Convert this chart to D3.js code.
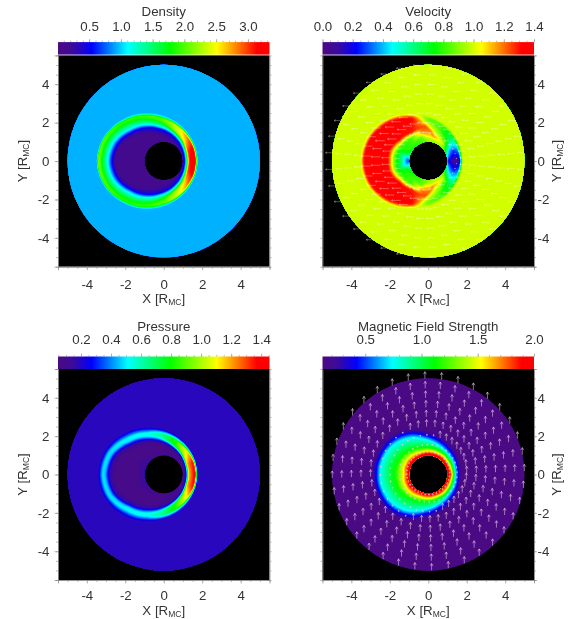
<!DOCTYPE html>
<html>
<head>
<meta charset="utf-8">
<title>Mars Crustal field panels</title>
<script src="https://cdn.jsdelivr.net/npm/d3@7"></script>
<style>
  html, body { margin: 0; padding: 0; background: #fff; }
  svg { display: block; filter: blur(0.6px); font-family: "Liberation Sans", Arial, sans-serif; }
  text { fill: #333; font-size: 13.3px; }
</style>
</head>
<body>
<div id="main"></div>
<script>
const ctx = {
  SVG_W: 569,
  SVG_H: 619,
  GRID: 220,
  barH: 12.5,
};

// rainbow colour table of the four colour bars
const colorPositions = [0, 0.07, 0.16, 0.33, 0.53, 0.75, 0.94, 1];
const colorHexes = ["#4c0a80", "#3c0a9c", "#0000ff", "#00ffff", "#00ff00", "#ffff00", "#ff0000", "#ff0000"];

const shockX = -0.85;
const rayAngles = [0, 15, 30, 50, 70, 90, 120, 150, 180];

// [distance along ray, value] for each ray
const densityProfile = [
  [[0, .14], [1.75, .15], [1.93, .5], [2.03, 1.2], [2.2, 3.2], [2.48, 3.3], [2.6, .97], [6, .97]],
  [[0, .14], [1.72, .15], [1.92, .5], [2.02, 1.2], [2.17, 3.0], [2.46, 3.25], [2.59, .97], [6, .97]],
  [[0, .14], [1.65, .15], [1.9, .5], [2.0, 1.1], [2.17, 2.5], [2.42, 2.9], [2.565, .97], [6, .97]],
  [[0, .14], [1.55, .15], [1.85, .5], [1.96, 1.1], [2.14, 2.2], [2.38, 2.4], [2.52, .97], [6, .97]],
  [[0, .14], [1.45, .15], [1.78, .5], [1.9, 1.1], [2.14, 1.85], [2.34, 2.1], [2.48, .97], [6, .97]],
  [[0, .12], [1.38, .13], [1.73, .5], [1.89, 1.1], [2.15, 1.75], [2.35, 2.0], [2.47, .97], [6, .97]],
  [[0, .12], [1.44, .13], [1.7, .5], [1.87, 1.1], [2.22, 1.75], [2.38, 1.95], [2.5, .97], [6, .97]],
  [[0, .12], [1.6, .13], [1.78, .5], [2.0, 1.1], [2.36, 1.85], [2.5, 2.1], [2.58, .97], [6, .97]],
  [[0, .12], [1.65, .13], [1.83, .5], [2.05, 1.1], [2.42, 1.9], [2.55, 2.2], [2.63, .97], [6, .97]],
];
const velocityProfile = [
  [[0, .9], [1, .9], [1.5, .9], [1.8, .5], [1.9, .2], [2.1, .1], [2.3, .05], [2.5, .15], [2.64, 1.0], [6, 1.0]],
  [[0, .9], [1, .9], [1.5, .9], [1.75, .9], [1.85, .6], [2.0, .4], [2.2, .3], [2.45, .38], [2.62, 1.0], [6, 1.0]],
  [[0, .9], [1, .9], [1.4, .9], [1.65, .95], [1.85, 1.0], [2.0, .82], [2.2, .66], [2.45, .66], [2.6, 1.0], [6, 1.0]],
  [[0, .8], [.8, .8], [1.3, .9], [1.55, 1.0], [1.72, 1.18], [1.92, 1.0], [2.2, .84], [2.42, .82], [2.55, 1.0], [6, 1.0]],
  [[0, .7], [.9, .8], [1.3, .85], [1.6, 1.2], [1.95, 1.25], [2.08, 1.05], [2.3, .88], [2.38, .88], [2.5, 1.0], [6, 1.0]],
  [[0, .6], [.4, .7], [.7, .8], [1.2, .82], [1.5, 1.3], [2.18, 1.33], [2.27, 1.28], [2.36, 1.12], [2.46, 1.0], [6, 1.0]],
  [[0, .4], [.25, .5], [.5, .75], [.95, .82], [1.3, 1.33], [2.28, 1.33], [2.36, 1.3], [2.45, 1.15], [2.55, 1.0], [6, 1.0]],
  [[0, .25], [.3, .4], [.6, .6], [.9, .8], [1.3, 1.33], [2.38, 1.35], [2.46, 1.3], [2.54, 1.15], [2.64, 1.0], [6, 1.0]],
  [[0, .2], [.3, .35], [.5, .6], [.85, .8], [1.25, 1.33], [2.42, 1.35], [2.5, 1.3], [2.58, 1.15], [2.67, 1.0], [6, 1.0]],
];
const pressureProfile = [
  [[0, .22], [1.5, .09], [1.9, .1], [2.04, .3], [2.18, 1.2], [2.48, 1.42], [2.6, .19], [6, .19]],
  [[0, .22], [1.5, .09], [1.9, .1], [2.02, .25], [2.15, 1.2], [2.45, 1.38], [2.59, .19], [6, .19]],
  [[0, .22], [1.45, .09], [1.88, .1], [1.99, .2], [2.14, 1.0], [2.38, 1.15], [2.565, .19], [6, .19]],
  [[0, .22], [1.3, .09], [1.78, .1], [1.92, .2], [2.09, .8], [2.3, .85], [2.52, .19], [6, .19]],
  [[0, .22], [1.15, .09], [1.68, .09], [1.84, .2], [2.05, .6], [2.24, .65], [2.47, .19], [6, .19]],
  [[0, .22], [1.0, .09], [1.55, .09], [1.78, .2], [2.0, .52], [2.14, .55], [2.44, .19], [6, .19]],
  [[0, .22], [.8, .09], [1.52, .09], [1.78, .2], [1.98, .5], [2.14, .52], [2.46, .19], [6, .19]],
  [[0, .22], [.55, .09], [1.68, .09], [1.95, .2], [2.15, .48], [2.29, .5], [2.52, .19], [6, .19]],
  [[0, .22], [.45, .09], [1.72, .09], [2.0, .2], [2.2, .47], [2.32, .5], [2.56, .19], [6, .19]],
];
const magneticProfile = [
  [[0, 2], [2.0, 1.9], [2.1, 1.5], [2.15, 1.15], [2.2, 1.0], [2.25, .75], [2.4, .42], [2.55, .16], [6, .16]],
  [[0, 2], [1.88, 1.9], [2.02, 1.5], [2.1, 1.15], [2.17, 1.0], [2.25, .75], [2.4, .42], [2.55, .16], [6, .16]],
  [[0, 2], [1.75, 1.9], [1.9, 1.5], [2.0, 1.15], [2.07, 1.0], [2.15, .75], [2.35, .42], [2.55, .16], [6, .16]],
  [[0, 2], [1.42, 1.9], [1.6, 1.5], [1.75, 1.15], [1.88, 1.0], [2.05, .75], [2.25, .42], [2.5, .16], [6, .16]],
  [[0, 2], [1.0, 1.9], [1.25, 1.5], [1.45, 1.15], [1.65, 1.0], [1.95, .75], [2.15, .42], [2.4, .16], [6, .16]],
  [[0, 2], [.7, 1.9], [1.0, 1.5], [1.25, 1.15], [1.5, 1.0], [1.92, .75], [2.15, .42], [2.38, .16], [6, .16]],
  [[0, 2], [.4, 1.9], [.7, 1.5], [1.05, 1.15], [1.35, 1.0], [1.82, .75], [2.05, .42], [2.3, .16], [6, .16]],
  [[0, 2], [.25, 1.9], [.52, 1.5], [.9, 1.15], [1.25, 1.0], [1.7, .75], [1.9, .42], [2.12, .16], [6, .16]],
  [[0, 2], [.17, 1.9], [.45, 1.5], [.85, 1.15], [1.2, 1.0], [1.65, .75], [1.85, .42], [2.08, .16], [6, .16]],
];

const panelTitles = ["Density", "Velocity", "Pressure", "Magnetic Field Strength"];
const densityDomain = [0.01, 3.34];
const velocityDomain = [0, 1.4];
const pressureDomain = [0.047, 1.455];
const magneticDomain = [0.12, 2.0];
const densityTicks = [0.5, 1.0, 1.5, 2.0, 2.5, 3.0];
const velocityTicks = [0.0, 0.2, 0.4, 0.6, 0.8, 1.0, 1.2, 1.4];
const pressureTicks = [0.2, 0.4, 0.6, 0.8, 1.0, 1.2, 1.4];
const magneticTicks = [0.5, 1.0, 1.5, 2.0];
const minorStep = [0.1, 0.05, 0.05, 0.1];

const axisTicks = [-4, -2, 0, 2, 4];
const axisMinor = [-5, -4.5, -4, -3.5, -3, -2.5, -2, -1.5, -1, -0.5, 0, 0.5, 1, 1.5, 2, 2.5, 3, 3.5, 4, 4.5, 5];
const diskRadius = 5;
const bodyRadius = 1;

// flow and field arrows sit on a polar grid
const velocityRings = [1.5, 2, 2.5, 3, 3.5, 4, 4.5, 5];
const velocityArrowAngles = [5, 15, 25, 35, 45, 55, 65, 75, 85, 95, 105, 115, 125, 135, 145, 155, 165, 175,
  185, 195, 205, 215, 225, 235, 245, 255, 265, 275, 285, 295, 305, 315, 325, 335, 345, 355];
const magneticRings = [1.12, 1.5, 2, 2.5, 3, 3.5, 4, 4.5, 5];
const magneticArrowAngles = [2, 12, 22, 32, 42, 52, 62, 72, 82, 92, 102, 112, 122, 132, 142, 152, 162, 172,
  182, 192, 202, 212, 222, 232, 242, 252, 262, 272, 282, 292, 302, 312, 322, 332, 342, 352];

function fieldValue(profile, x, y) {
  const dx = x - shockX;
  const s = Math.hypot(dx, y);
  const th = Math.atan2(Math.abs(y), dx) * 180 / Math.PI;
  const i = Math.min(d3.bisectRight(rayAngles, th) - 1, rayAngles.length - 2);
  const f = (th - rayAngles[i]) / (rayAngles[i + 1] - rayAngles[i]);
  const a = profile[i], b = profile[i + 1];
  let s0 = a[0][0], v0 = a[0][1];
  for (let k = 1; k < a.length; k++) {
    const s1 = a[k][0] + (b[k][0] - a[k][0]) * f;
    const v1 = a[k][1] + (b[k][1] - a[k][1]) * f;
    if (s <= s1) return v0 + (v1 - v0) * (s - s0) / (s1 - s0);
    s0 = s1; v0 = v1;
  }
  return v0;
}

function CreateField(g, p, x, y, color, id) {
  const n = ctx.GRID;
  const gx = d3.scaleLinear([0, n], x.domain());
  const gy = d3.scaleLinear([0, n], y.domain().slice().reverse());

  const grid = new Float64Array(n * n);
  for (let j = 0; j < n; j++) {
    for (let i = 0; i < n; i++) {
      grid[j * n + i] = fieldValue(p.profile, gx(i + 0.5), gy(j + 0.5));
    }
  }

  const dom = color.domain();
  const thresholds = d3.range(90).map(i => dom[0] + (dom[dom.length - 1] - dom[0]) * i / 90);
  const contours = d3.contours().size([n, n]).thresholds(thresholds)(grid);
  const path = d3.geoPath().projection(d3.geoTransform({
    point(a, b) { this.stream.point(x(gx(a)), y(gy(b))); },
  }));

  // disk with the body cut out
  const r = x(diskRadius) - x(0), rb = x(bodyRadius) - x(0);
  const cx = x(0), cy = y(0);
  const ringPath = d3.path();
  ringPath.arc(cx, cy, r, 0, 2 * Math.PI);
  ringPath.moveTo(cx + rb, cy);
  ringPath.arc(cx, cy, rb, 0, 2 * Math.PI);
  g.append("clipPath").attr("id", "ring" + id)
    .append("path").attr("d", ringPath.toString()).attr("clip-rule", "evenodd");

  g.append("g").attr("clip-path", `url(#ring${id})`)
    .selectAll("path")
    .data(contours)
    .enter()
    .append("path")
    .attr("d", path)
    .attr("fill", d => color(d.value));
}

function CreateArrows(g, p, x, y) {
  const arrows = [];
  p.arrowRings.forEach(r => p.arrowAngles.forEach(a => {
    const ax = r * Math.cos(a * Math.PI / 180), ay = r * Math.sin(a * Math.PI / 180);
    arrows.push(p.arrow(ax, ay, fieldValue(p.profile, ax, ay)));
  }));
  const h = p.headSize;
  g.append("g")
    .selectAll("path")
    .data(arrows)
    .enter()
    .append("path")
    .attr("d", d => {
      const x1 = x(d.x + d.dx), y1 = y(d.y + d.dy);
      const len = Math.hypot(d.dx, d.dy) || 1;
      const ux = d.dx / len, uy = -d.dy / len;
      const back = Math.min(h, len * 19.2 * 0.5);
      return `M${x(d.x)},${y(d.y)}L${x1},${y1}` +
        `M${x1 - ux * back - uy * back * 0.6},${y1 - uy * back + ux * back * 0.6}L${x1},${y1}` +
        `L${x1 - ux * back + uy * back * 0.6},${y1 - uy * back - ux * back * 0.6}`;
    })
    .attr("fill", "none")
    .attr("stroke", p.arrowColor)
    .attr("stroke-width", p.arrowWidth);
}

function RmcLabel(sel, letter) {
  sel.append("tspan").text(letter + " [R");
  sel.append("tspan").attr("dy", 2).style("font-size", "8.5px").text("MC");
  sel.append("tspan").attr("dy", -2).text("]");
}

function CreateAxes(g, p, x, y) {
  const plain = d => String(d);
  const bottom = y.range()[0], left = x.range()[0], right = x.range()[1];

  const styleAxis = a => {
    a.selectAll("line").attr("stroke", "#999").attr("stroke-width", 0.7);
    a.select(".domain").attr("stroke", "#8a8a8a").attr("stroke-width", 0.7);
  };

  const minorAxes = [
    [d3.axisBottom(x), 0, bottom], [d3.axisLeft(y), left, 0], [d3.axisRight(y), right, 0],
  ];
  minorAxes.forEach(([ax, tx, ty]) => {
    g.append("g").attr("transform", `translate(${tx},${ty})`)
      .call(ax.tickValues(axisMinor).tickSize(2).tickFormat(""))
      .call(styleAxis);
  });

  g.append("g").attr("transform", `translate(0,${bottom})`)
    .call(d3.axisBottom(x).tickValues(axisTicks).tickSize(3.5).tickPadding(p.xTickPad).tickFormat(plain))
    .call(styleAxis)
    .selectAll("text").style("font-size", "13.3px").attr("fill", "#333");

  const yAxis = p.yRight ? d3.axisRight(y).tickSize(3).tickPadding(0.5) : d3.axisLeft(y).tickSize(3.5).tickPadding(5);
  g.append("g").attr("transform", `translate(${p.yRight ? right : left},0)`)
    .call(yAxis.tickValues(axisTicks).tickFormat(plain))
    .call(styleAxis)
    .selectAll("text").style("font-size", "13.3px").attr("fill", "#333");

  g.append("text")
    .attr("x", x(0)).attr("y", bottom + p.xLabelGap)
    .attr("text-anchor", "middle")
    .call(RmcLabel, "X");

  g.append("text")
    .attr("transform", `translate(${p.yRight ? right + 27 : left - 31},${y(0)}) rotate(-90)`)
    .attr("text-anchor", "middle")
    .call(RmcLabel, "Y");
}

function CreateColorBar(g, p, x, y, color) {
  const top = y.range()[1];
  const barTop = top - p.barGap - ctx.barH;
  const bar = d3.scaleLinear(p.domain, x.range());

  const grad = g.append("linearGradient").attr("id", "bar" + p.id);
  colorPositions.forEach((t, i) => {
    grad.append("stop").attr("offset", t).attr("stop-color", colorHexes[i]);
  });
  g.append("rect")
    .attr("x", x.range()[0]).attr("y", barTop)
    .attr("width", x.range()[1] - x.range()[0]).attr("height", ctx.barH)
    .attr("fill", `url(#bar${p.id})`);

  const styleBar = a => {
    a.selectAll("line").attr("stroke", "#999").attr("stroke-width", 0.7);
    a.select(".domain").remove();
  };
  const minors = d3.range(Math.ceil(p.domain[0] / p.minor), p.domain[1] / p.minor + 0.001).map(k => k * p.minor);
  g.append("g").attr("transform", `translate(0,${barTop})`)
    .call(d3.axisTop(bar).tickValues(minors).tickSize(1.5).tickFormat(""))
    .call(styleBar);
  g.append("g").attr("transform", `translate(0,${barTop})`)
    .call(d3.axisTop(bar).tickValues(p.ticks).tickSize(3).tickPadding(p.labelGap).tickFormat(d3.format(".1f")))
    .call(styleBar)
    .selectAll("text").style("font-size", "13.3px").attr("fill", "#333");

  g.append("text")
    .attr("x", x(0)).attr("y", barTop - p.titleGap)
    .attr("text-anchor", "middle")
    .text(p.title);
}

function CreatePanel(svgEl, p) {
  const x = d3.scaleLinear([-5.5, 5.5], p.xRange);
  const y = d3.scaleLinear([-5.5, 5.5], p.yRange);
  const t = d3.scaleLinear([0, 1], p.domain);
  const color = d3.scaleLinear(colorPositions.map(t), colorHexes).clamp(true);

  const g = svgEl.append("g").attr("id", "panel" + p.id);

  g.append("rect")
    .attr("x", p.xRange[0]).attr("y", p.yRange[1])
    .attr("width", p.xRange[1] - p.xRange[0]).attr("height", p.yRange[0] - p.yRange[1])
    .attr("fill", "#000");

  CreateField(g, p, x, y, color, p.id);
  if (p.arrow) CreateArrows(g, p, x, y);
  CreateAxes(g, p, x, y);
  CreateColorBar(g, p, x, y, color);
}

function createViz() {
  const svgEl = d3.select("#main").append("svg")
    .attr("width", ctx.SVG_W).attr("height", ctx.SVG_H);

  const colLeft = [58, 269.5], colRight = [322.5, 534];
  const rowTop = [266.7, 55.4], rowBottom = [580, 369];

  const panels = [
    { id: 0, title: panelTitles[0], profile: densityProfile, domain: densityDomain, ticks: densityTicks, minor: minorStep[0],
      xRange: colLeft, yRange: rowTop, barGap: 0.8, labelGap: 8, titleGap: 26, xTickPad: 9.5, xLabelGap: 36.5 },
    { id: 1, title: panelTitles[1], profile: velocityProfile, domain: velocityDomain, ticks: velocityTicks, minor: minorStep[1],
      xRange: colRight, yRange: rowTop, yRight: true, barGap: 0.8, labelGap: 8, titleGap: 26, xTickPad: 9.5, xLabelGap: 36.5,
      arrowRings: velocityRings, arrowAngles: velocityArrowAngles, headSize: 1.5,
      arrowColor: "rgba(255,255,255,0.5)", arrowWidth: 0.6,
      arrow: (ax, ay, v) => ({ x: ax, y: ay, dx: -0.36 * v, dy: 0 }) },
    { id: 2, title: panelTitles[2], profile: pressureProfile, domain: pressureDomain, ticks: pressureTicks, minor: minorStep[2],
      xRange: colLeft, yRange: rowBottom, barGap: 0, labelGap: 9.5, titleGap: 26, xTickPad: 7.5, xLabelGap: 34.5 },
    { id: 3, title: panelTitles[3], profile: magneticProfile, domain: magneticDomain, ticks: magneticTicks, minor: minorStep[3],
      xRange: colRight, yRange: rowBottom, yRight: true, barGap: 0, labelGap: 9.5, titleGap: 26, xTickPad: 7.5, xLabelGap: 34.5,
      arrowRings: magneticRings, arrowAngles: magneticArrowAngles, headSize: 2.4,
      arrowColor: "rgba(235,205,235,0.7)", arrowWidth: 0.8,
      arrow: (ax, ay, v) => ({ x: ax, y: ay, dx: 0, dy: v > 0.25 ? 0.1 : 0.36 }) },
  ];

  panels.forEach(p => CreatePanel(svgEl, p));
}

createViz();
</script>
</body>
</html>
